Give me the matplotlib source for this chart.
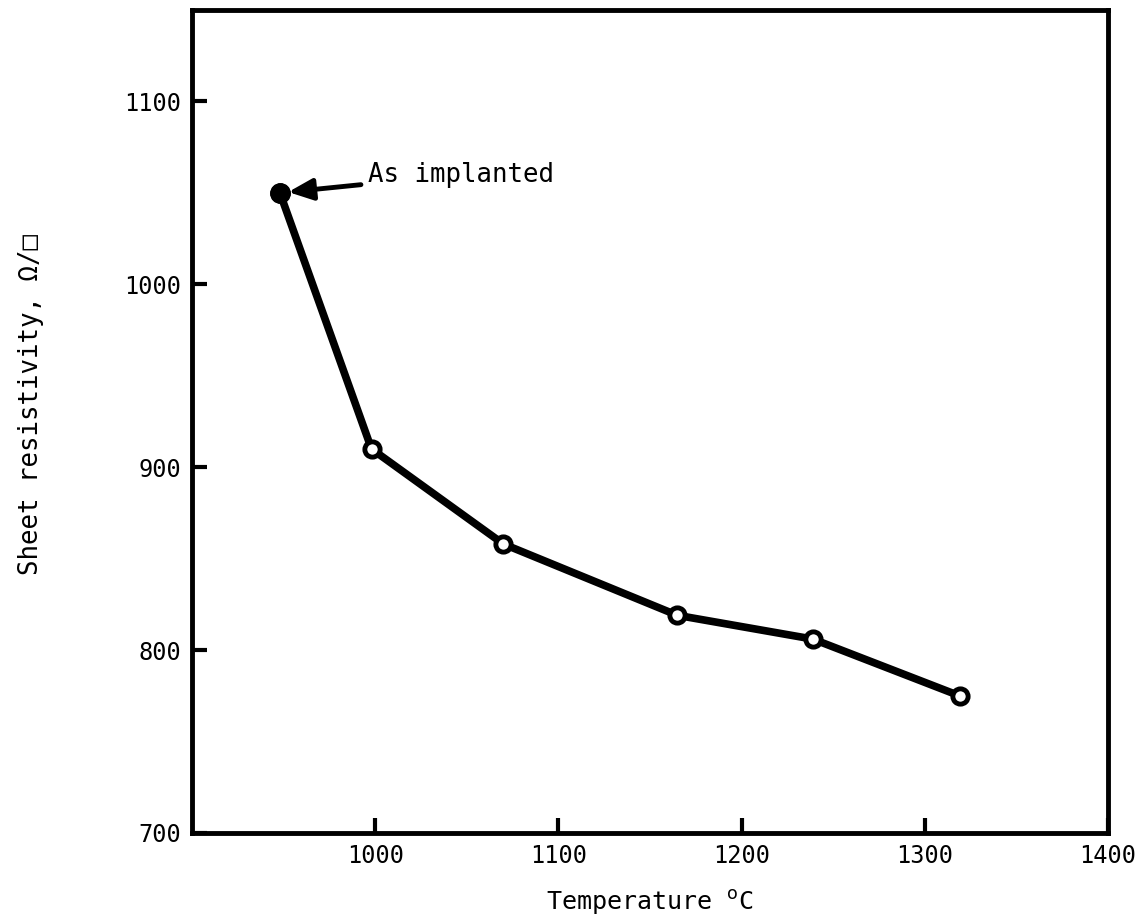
import matplotlib
matplotlib.use("Agg")
import matplotlib.pyplot as plt

temperature = [948, 998, 1070, 1165, 1239, 1319]
resistivity = [1050, 910, 858, 819, 806, 775]
x_ticks = [1000, 1100, 1200, 1300, 1400]
y_ticks = [700, 800, 900, 1000, 1100]

plt.rcParams['font.family'] = ['DejaVu Sans Mono', 'DejaVu Sans']

fig = plt.figure(figsize=(11.38, 9.24), dpi=100)
ax = fig.add_axes([0.1687, 0.0985, 0.8049, 0.8907])

ax.plot(temperature, resistivity, color='black', lw=5.5, solid_joinstyle='round',
        marker='o', markersize=11, markerfacecolor='white', markeredgecolor='black',
        markeredgewidth=3.5, zorder=3)
ax.plot(temperature[:1], resistivity[:1], 'o', color='black', markersize=14, zorder=4)

ax.annotate('As implanted', xy=(temperature[0], resistivity[0]),
            xytext=(996, 1060), fontsize=18.5, va='center', ha='left',
            arrowprops=dict(arrowstyle='-|>,head_length=0.8,head_width=0.35', lw=3.5,
                            color='black', shrinkA=3, shrinkB=6))

ax.set_xlim(900, 1400)
ax.set_ylim(700, 1150)
ax.set_xticks(x_ticks)
ax.set_yticks(y_ticks)
ax.tick_params(direction='in', length=11, width=3, labelsize=17, pad=8)
for s in ax.spines.values():
    s.set_linewidth(3.5)

ax.set_xlabel('Temperature $^{\\mathrm{o}}$C', fontsize=18, labelpad=14)
fig.text(0.027, 0.562, 'Sheet resistivity, Ω/□', rotation=90, fontsize=18.5,
         ha='center', va='center')

fig.savefig('out.png', dpi=100)
